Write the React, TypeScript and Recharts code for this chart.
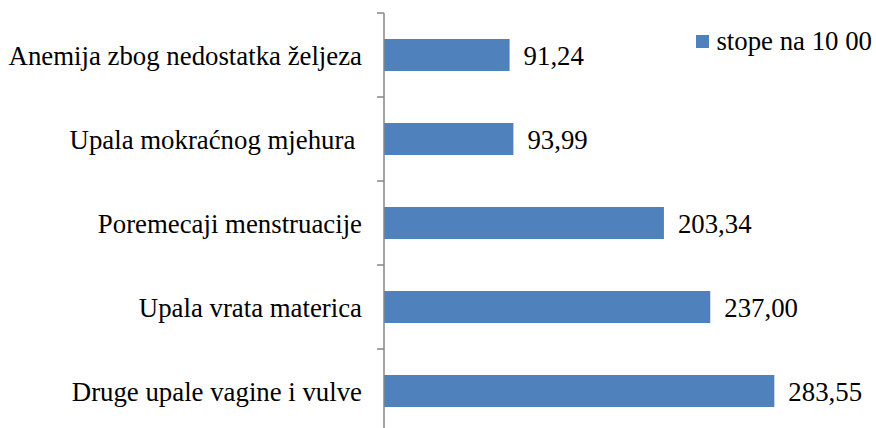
import React from 'react';
import { BarChart, Bar, XAxis, YAxis, LabelList } from 'recharts';

const categories = [
  'Anemija zbog nedostatka željeza',
  'Upala mokraćnog mjehura ',
  'Poremecaji menstruacije',
  'Upala vrata materica',
  'Druge upale vagine i vulve',
];
const rates = [91.24, 93.99, 203.34, 237.0, 283.55];
const seriesName = 'stope na 10 00';

const data = categories.map((name, i) => ({ name, value: rates[i] }));

const FONT = "'Liberation Serif', 'Times New Roman', 'DejaVu Serif', serif";
const BLUE = '#4F81BD';
const AXIS = '#868686';
const W = 876;
const H = 428;
const TOP = 13;
const BOTTOM = -5;
const BAND = (H - TOP - BOTTOM) / categories.length;
const TICK = 7;
const GAP = 15;
const FS = 26.8;

const CategoryTick = (props: any) => {
  const { x, y, payload, index } = props;
  const lx = x + GAP;
  return (
    <g>
      <line x1={lx} x2={lx + TICK} y1={y - BAND / 2} y2={y - BAND / 2} stroke={AXIS} strokeWidth={1.5} />
      {index === categories.length - 1 && (
        <line x1={lx} x2={lx + TICK} y1={y + BAND / 2} y2={y + BAND / 2} stroke={AXIS} strokeWidth={1.5} />
      )}
      <text
        x={x}
        y={y}
        dy="0.355em"
        textAnchor="end"
        fill="#000"
        style={{ whiteSpace: 'pre', fontFamily: FONT, fontSize: FS }}
      >
        {payload.value}
      </text>
    </g>
  );
};

const App: React.FC = () => {
  return (
    <div style={{ position: 'absolute', left: 0, top: 0, width: W, height: H }}>
      <BarChart
        width={W}
        height={H}
        data={data}
        layout="vertical"
        margin={{ top: TOP, right: 79, bottom: BOTTOM, left: 0 }}
      >
        <XAxis type="number" domain={[0, 300]} hide />
        <YAxis
          type="category"
          dataKey="name"
          width={384}
          tickLine={false}
          tickSize={TICK}
          tickMargin={GAP}
          axisLine={{ stroke: AXIS, strokeWidth: 1.5 }}
          tick={<CategoryTick />}
          interval={0}
        />
        <Bar dataKey="value" name={seriesName} fill={BLUE} barSize={32} isAnimationActive={false}>
          <LabelList
            dataKey="value"
            position="right"
            offset={14}
            formatter={(v: any) => Number(v).toFixed(2).replace('.', ',')}
            fill="#000"
            style={{ fontFamily: FONT, fontSize: FS }}
          />
        </Bar>
      </BarChart>
      {/* legend */}
      <div
        style={{
          position: 'absolute',
          top: 26,
          right: 4,
          display: 'flex',
          alignItems: 'center',
          fontFamily: FONT,
          fontSize: FS,
          color: '#000',
          lineHeight: '30px',
          whiteSpace: 'nowrap',
        }}
      >
        <span style={{ display: 'inline-block', width: 13, height: 13, background: BLUE, marginRight: 7 }} />
        <span>{seriesName}</span>
      </div>
    </div>
  );
};

export default App;
